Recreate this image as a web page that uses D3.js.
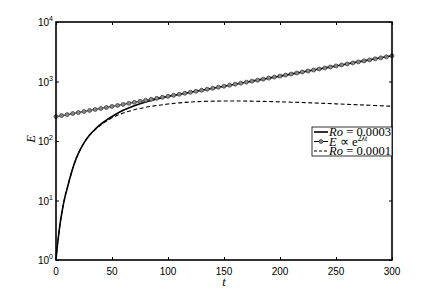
<!DOCTYPE html>
<html>
<head>
<meta charset="utf-8">
<style>
  body { margin: 0; background: #fff; }
  svg { display: block; }
  .tick-lab { font-family: 'Liberation Sans', Arial, sans-serif; font-size: 10px; fill: #000; }
  .tex { font-family: 'Liberation Serif', 'Times New Roman', serif; font-size: 12.5px; fill: #000; }
</style>
</head>
<body>
<svg id="chart" width="433" height="293"></svg>
<script src="https://cdn.jsdelivr.net/npm/d3@7/dist/d3.min.js"></script>
<script>
// Ro = 0.0003 (solid)
const solidT = [0, 1, 2, 3, 4, 6, 8, 10, 13, 16, 20, 25, 30, 35, 40, 45, 50, 60, 70, 80, 90, 100, 125, 150, 175, 200, 225, 250, 275, 300];
const solidE = [1, 1.6, 2.3, 3.3, 4.5, 7.5, 11.5, 16, 26, 40, 62, 93, 126, 158, 192, 224, 258, 328, 393, 452, 508, 560, 685, 834, 1014, 1233, 1500, 1826, 2221, 2700];

// Ro = 0.0001 (dashed)
const dashT = [0, 1, 2, 3, 4, 6, 8, 10, 13, 16, 20, 25, 30, 35, 40, 50, 60, 70, 80, 90, 100, 110, 125, 150, 175, 200, 225, 250, 275, 300];
const dashE = [1, 1.6, 2.3, 3.3, 4.5, 7.5, 11.5, 16, 26, 40, 62, 93, 125, 155, 186, 245, 295, 335, 368, 395, 418, 438, 458, 470, 467, 455, 440, 421, 402, 384];

// E ~ e^{2 lambda t}, marker points every 5 time units
const expT = d3.range(0, 301, 5);
const expE = [257, 267, 278, 289, 301, 313, 326, 339, 352, 366, 381, 396, 412, 429, 446, 464,
  483, 502, 522, 543, 563, 586, 609, 634, 659, 685, 713, 741, 771, 802, 834, 867, 902, 938,
  975, 1014, 1054, 1096, 1140, 1186, 1233, 1282, 1334, 1387, 1442, 1500, 1560, 1622, 1687,
  1754, 1826, 1898, 1974, 2053, 2135, 2221, 2309, 2401, 2497, 2597, 2700];

const xTicks = [0, 50, 100, 150, 200, 250, 300];
const yTicks = [1, 10, 100, 1000, 10000];
const yExp = ["0", "1", "2", "3", "4"];

const legendItems = [
  { key: "solid", ro: "0.0003" },
  { key: "exp" },
  { key: "dash", ro: "0.0001" }
];

const margin = { top: 22, right: 41, bottom: 33, left: 56 };
const width = 433, height = 293;

const svg = d3.select("#chart");

const x = d3.scaleLinear().domain([0, 300]).range([margin.left, width - margin.right]);
const y = d3.scaleLog().domain([1, 10000]).range([height - margin.bottom, margin.top]);

const plot = svg.append("g");

plot.append("path")
  .datum(d3.zip(dashT, dashE))
  .attr("d", d3.line().x(d => x(d[0])).y(d => y(d[1])).curve(d3.curveCatmullRom))
  .attr("fill", "none")
  .attr("stroke", "#000")
  .attr("stroke-width", 1.1)
  .attr("stroke-dasharray", "4,2.5");

plot.append("path")
  .datum(d3.zip(solidT, solidE))
  .attr("d", d3.line().x(d => x(d[0])).y(d => y(d[1])).curve(d3.curveCatmullRom))
  .attr("fill", "none")
  .attr("stroke", "#000")
  .attr("stroke-width", 1.6);

const expData = d3.zip(expT, expE);
plot.append("path")
  .datum(expData)
  .attr("d", d3.line().x(d => x(d[0])).y(d => y(d[1])))
  .attr("fill", "none")
  .attr("stroke", "#000")
  .attr("stroke-width", 1);

plot.selectAll("circle.mk")
  .data(expData)
  .join("circle")
  .attr("class", "mk")
  .attr("cx", d => x(d[0]))
  .attr("cy", d => y(d[1]))
  .attr("r", 2)
  .attr("fill", "#888")
  .attr("stroke", "#333")
  .attr("stroke-width", 0.7);

// axes, matlab style: inward ticks on all four sides
const x0 = x(0), x1 = x(300), y0 = y(1), y1 = y(10000);

svg.append("g")
  .attr("transform", `translate(0,${y0})`)
  .call(d3.axisBottom(x).tickValues(xTicks).tickSize(-3).tickFormat(""))
  .call(g => g.select(".domain").remove());
svg.append("g")
  .attr("transform", `translate(0,${y1})`)
  .call(d3.axisTop(x).tickValues(xTicks).tickSize(-3).tickFormat(""))
  .call(g => g.select(".domain").remove());
svg.append("g")
  .attr("transform", `translate(${x0},0)`)
  .call(d3.axisLeft(y).tickValues(yTicks).tickSize(-3).tickFormat(""))
  .call(g => g.select(".domain").remove());
svg.append("g")
  .attr("transform", `translate(${x1},0)`)
  .call(d3.axisRight(y).tickValues(yTicks).tickSize(-3).tickFormat(""))
  .call(g => g.select(".domain").remove());

svg.selectAll(".tick line").attr("stroke", "#000").attr("stroke-width", 1);

svg.append("rect")
  .attr("x", x0).attr("y", y1)
  .attr("width", x1 - x0).attr("height", y0 - y1)
  .attr("fill", "none")
  .attr("stroke", "#000")
  .attr("stroke-width", 1.6);

// tick labels
svg.selectAll("text.xl")
  .data(xTicks)
  .join("text")
  .attr("class", "tick-lab")
  .attr("x", d => x(d))
  .attr("y", y0 + 15)
  .attr("text-anchor", "middle")
  .text(d => d);

const yl = svg.selectAll("text.yl")
  .data(yTicks)
  .join("text")
  .attr("class", "tick-lab")
  .attr("x", x0 - 3)
  .attr("y", d => y(d) + 4)
  .attr("text-anchor", "end");
yl.append("tspan").text("10");
yl.append("tspan")
  .attr("dy", -5)
  .attr("font-size", "7px")
  .text((d, i) => yExp[i]);

// axis labels
svg.append("text")
  .attr("class", "tex")
  .attr("x", (x0 + x1) / 2)
  .attr("y", y0 + 26)
  .attr("text-anchor", "middle")
  .attr("font-style", "italic")
  .text("t");

svg.append("text")
  .attr("class", "tex")
  .attr("transform", `translate(35,${y(100) - 2}) rotate(-90)`)
  .attr("text-anchor", "middle")
  .attr("font-style", "italic")
  .text("E");

// legend
const lg = svg.append("g").attr("transform", "translate(312,127)");
lg.append("rect")
  .attr("width", 80).attr("height", 29)
  .attr("fill", "#fff")
  .attr("stroke", "#000")
  .attr("stroke-width", 0.8);

legendItems.forEach((it, i) => {
  const cy = 5 + i * 9.5;
  const row = lg.append("g").attr("transform", `translate(0,${cy})`);
  const ln = row.append("line")
    .attr("x1", 2).attr("x2", 16)
    .attr("stroke", "#000");
  if (it.key === "solid") ln.attr("stroke-width", 1.6);
  if (it.key === "dash") ln.attr("stroke-width", 1.1).attr("stroke-dasharray", "3,2");
  if (it.key === "exp") {
    ln.attr("stroke-width", 1);
    row.append("circle").attr("cx", 9).attr("r", 2)
      .attr("fill", "#888").attr("stroke", "#333").attr("stroke-width", 0.7);
  }
  const t = row.append("text").attr("class", "tex").attr("x", 17).attr("y", 4)
    .attr("textLength", it.ro ? 62 : null);
  if (it.ro) {
    t.append("tspan").attr("font-style", "italic").text("Ro");
    t.append("tspan").text(" = " + it.ro);
  } else {
    t.append("tspan").attr("font-style", "italic").text("E");
    t.append("tspan").text(" \u221D e");
    t.append("tspan").attr("dy", -5).attr("font-size", "8px").text("2");
    t.append("tspan").attr("font-size", "8px").attr("font-style", "italic").text("\u03BBt");
  }
});
</script>
</body>
</html>
